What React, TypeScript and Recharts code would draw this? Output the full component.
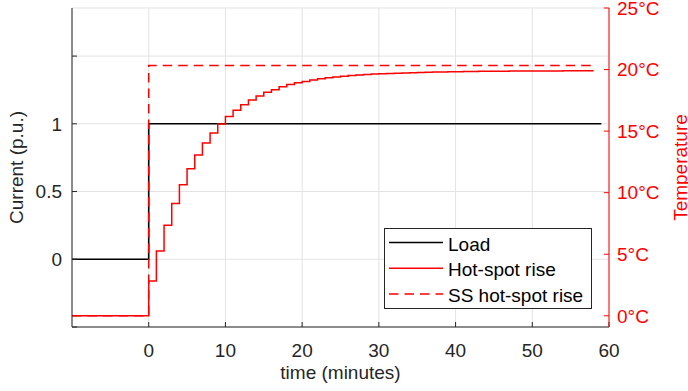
import { CartesianGrid, ComposedChart, Legend, Line, XAxis, YAxis } from "recharts";

const timeTicks = [0, 10, 20, 30, 40, 50, 60];
const currentTicks = [-0.5, 0, 0.5, 1, 1.5];
const currentLabels = ["", "0", "0.5", "1", ""];
const tempTicks = [0, 5, 10, 15, 20, 25];
const seriesNames = ["Load", "Hot-spot rise", "SS hot-spot rise"];

const loadTime = [-10, 0, 59];
const loadValue = [0, 1, 1];

const hotSpotTime = [
  -10, 0, 1, 2, 3, 4, 5, 6, 7, 8, 9, 10, 11, 12, 13, 14, 15, 16, 17, 18, 19, 20, 21, 22, 23, 24,
  25, 26, 27, 28, 29, 30, 31, 32, 33, 34, 35, 36, 37, 38, 39, 40, 41, 42, 43, 44, 45, 46, 47, 48,
  49, 50, 51, 52, 53, 54, 55, 56, 57, 58,
];
const hotSpotValue = [
  0, 2.83, 5.27, 7.36, 9.13, 10.64, 11.95, 13.06, 14.04, 14.85, 15.58, 16.18, 16.7, 17.15, 17.53,
  17.86, 18.16, 18.37, 18.6, 18.78, 18.92, 19.04, 19.15, 19.25, 19.33, 19.4, 19.46, 19.51, 19.56,
  19.6, 19.63, 19.66, 19.69, 19.71, 19.73, 19.75, 19.77, 19.78, 19.8, 19.81, 19.82, 19.83, 19.84,
  19.85, 19.86, 19.86, 19.87, 19.87, 19.88, 19.88, 19.88, 19.89, 19.89, 19.89, 19.89, 19.9, 19.9,
  19.9, 19.9, 19.9,
];

const ssTime = [-10, 0, 58];
const ssValue = [0, 20.33, 20.33];

const toPoints = (ts: number[], vs: number[]) => ts.map((t, i) => ({ t, v: vs[i] }));

const loadData = toPoints(loadTime, loadValue);
const hotSpotData = toPoints(hotSpotTime, hotSpotValue);
const ssData = toPoints(ssTime, ssValue);

const FONT = "'Liberation Sans', Arial, sans-serif";
const AXIS = "#262626";
const RED = "#ff0000";
const SS_DASH = "9.5 6";

const legendStyles: Record<string, { color: string; dash?: string }> = {
  Load: { color: "#000000" },
  "Hot-spot rise": { color: RED },
  "SS hot-spot rise": { color: RED, dash: SS_DASH },
};

function LegendBox() {
  return (
    <svg width={208} height={81} style={{ display: "block" }}>
      <rect x={0.5} y={0.5} width={207} height={80} fill="#ffffff" stroke={AXIS} strokeWidth={1} />
      {seriesNames.map((name, i) => {
        const cy = 14.5 + i * 25.8;
        const st = legendStyles[name];
        return (
          <g key={name}>
            <line x1={5} x2={59} y1={cy} y2={cy} stroke={st.color} strokeWidth={1.5} strokeDasharray={st.dash} />
            <text x={64} y={cy + 8} fontSize={19} fontFamily={FONT} fill="#000">
              {name}
            </text>
          </g>
        );
      })}
    </svg>
  );
}

export default function App() {
  return (
    <div style={{ position: "absolute", left: 0, top: 0, fontFamily: FONT }}>
      <ComposedChart width={688} height={391} margin={{ top: 8, right: 0, bottom: 0, left: 0 }}>
        <CartesianGrid xAxisId="bottom" yAxisId="left" stroke="#e3e3e3" strokeWidth={1} />
        <XAxis
          xAxisId="bottom"
          dataKey="t"
          type="number"
          domain={[-10, 60]}
          ticks={timeTicks}
          interval={0}
          allowDataOverflow
          height={64}
          stroke={AXIS}
          tickSize={-5}
          tickMargin={22}
          tick={{ fill: AXIS, fontSize: 19, fontFamily: FONT }}
          label={{ value: "time (minutes)", position: "insideBottom", offset: 12, fill: AXIS, fontSize: 19, fontFamily: FONT }}
        />
        <XAxis
          xAxisId="top"
          dataKey="t"
          type="number"
          orientation="top"
          domain={[-10, 60]}
          ticks={timeTicks}
          interval={0}
          allowDataOverflow
          height={0}
          stroke={AXIS}
          tickSize={-5}
          tickFormatter={() => ""}
        />
        <YAxis
          yAxisId="left"
          type="number"
          domain={[-0.5, 1.855]}
          ticks={currentTicks}
          interval={0}
          allowDataOverflow
          width={72}
          stroke={AXIS}
          tickSize={-5}
          tickMargin={15}
          tickFormatter={(v: number) => currentLabels[currentTicks.indexOf(v)] ?? ""}
          tick={{ fill: AXIS, fontSize: 19, fontFamily: FONT }}
          label={{
            value: "Current (p.u.)",
            angle: -90,
            position: "insideLeft",
            offset: 16,
            fill: AXIS,
            fontSize: 19,
            fontFamily: FONT,
            style: { textAnchor: "middle" },
          }}
        />
        <YAxis
          yAxisId="right"
          orientation="right"
          type="number"
          domain={[-0.91, 25]}
          ticks={tempTicks}
          interval={0}
          allowDataOverflow
          width={79}
          stroke={RED}
          tickSize={-5}
          tickMargin={13}
          tickFormatter={(v: number) => `${v}°C`}
          tick={{ fill: RED, fontSize: 19, fontFamily: FONT }}
          label={{
            value: "Temperature",
            angle: -90,
            position: "insideRight",
            offset: 8,
            fill: RED,
            fontSize: 19,
            fontFamily: FONT,
            style: { textAnchor: "middle" },
          }}
        />
        <Line
          name={seriesNames[0]}
          data={loadData}
          dataKey="v"
          xAxisId="bottom"
          yAxisId="left"
          type="stepAfter"
          stroke="#000000"
          strokeWidth={1.6}
          dot={false}
          isAnimationActive={false}
        />
        <Line
          name={seriesNames[1]}
          data={hotSpotData}
          dataKey="v"
          xAxisId="bottom"
          yAxisId="right"
          type="stepAfter"
          stroke={RED}
          strokeWidth={1.5}
          dot={false}
          isAnimationActive={false}
        />
        <Line
          name={seriesNames[2]}
          data={ssData}
          dataKey="v"
          xAxisId="bottom"
          yAxisId="right"
          type="stepAfter"
          stroke={RED}
          strokeWidth={1.5}
          strokeDasharray={SS_DASH}
          dot={false}
          isAnimationActive={false}
        />
        <Legend
          layout="horizontal"
          verticalAlign="middle"
          align="center"
          content={LegendBox}
          wrapperStyle={{ left: 384, top: 228, width: 208, height: 81 }}
        />
      </ComposedChart>
    </div>
  );
}
